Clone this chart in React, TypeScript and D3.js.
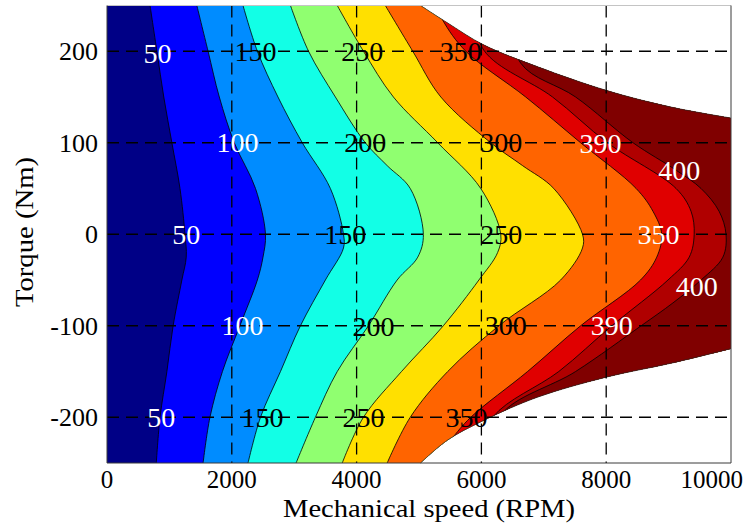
import React, { useRef, useEffect } from 'react';
import * as d3 from 'd3';

type Pt = [number, number]; // [speed (RPM), torque (Nm)]

// contour levels and the colour of each band (below first level ... above last)
const LEVELS = [50, 100, 150, 200, 250, 300, 350, 390, 400];
const BAND_COLORS = [
  '#000086', '#0000ff', '#008cff', '#12ffe6', '#90ff70',
  '#ffe000', '#ff6400', '#e00000', '#b00000', '#800000',
];

// contour lines, top (250 Nm) to bottom (-250 Nm)
const C50: Pt[] = [[690, 250], [800, 200], [910, 150], [1040, 100], [1170, 50], [1250, 0], [1270, -25], [1200, -50], [1060, -100], [960, -150], [850, -200], [790, -250]];
const C100: Pt[] = [[1440, 250], [1620, 200], [1800, 150], [2040, 100], [2380, 50], [2540, 0], [2500, -25], [2410, -50], [2130, -100], [1850, -150], [1650, -200], [1540, -250]];
const C150: Pt[] = [[2180, 250], [2410, 200], [2740, 150], [3130, 100], [3580, 50], [3790, 0], [3790, -15], [3500, -50], [3100, -100], [2780, -150], [2460, -200], [2260, -250]];
const C200: Pt[] = [[2940, 250], [3230, 200], [3660, 150], [4140, 100], [4490, 75], [4860, 50], [5070, 0], [4980, -25], [4650, -50], [4190, -100], [3690, -150], [3340, -200], [3030, -250]];
const C250: Pt[] = [[3690, 250], [4110, 200], [4590, 150], [5300, 100], [5990, 50], [6310, 0], [6260, -20], [5960, -50], [5390, -100], [4720, -150], [4110, -200], [3770, -250]];
const C300: Pt[] = [[4460, 250], [4900, 200], [5350, 150], [6150, 100], [6660, 75], [7160, 50], [7620, 0], [7620, -15], [7270, -50], [6280, -100], [5460, -150], [4860, -200], [4490, -250]];
const C350: Pt[] = [[5220, 260], [5380, 234], [5750, 200], [6710, 150], [7590, 100], [8480, 50], [8750, 25], [8890, 0], [8810, -25], [8550, -50], [7590, -100], [6740, -150], [5830, -200], [5510, -225], [5150, -260]];
const C390: Pt[] = [[5830, 260], [6040, 201], [7140, 150], [8020, 100], [9120, 50], [9360, 25], [9410, 0], [9330, -25], [8990, -50], [8090, -100], [7240, -150], [6180, -200], [5830, -260]];
const C400: Pt[] = [[6390, 260], [6630, 187], [7510, 150], [8430, 100], [9120, 70], [9520, 50], [9810, 25], [9920, 0], [9870, -25], [9520, -50], [9070, -75], [8560, -100], [7510, -150], [6310, -198], [6150, -260]];
const CONTOURS = [C50, C100, C150, C200, C250, C300, C350, C390, C400];

// torque limit of the operating region
const ENVELOPE_TOP: Pt[] = [[5024, 250], [5457, 231], [6035, 207], [6902, 183], [8010, 157], [9037, 139], [10000, 127]];
const ENVELOPE_BOTTOM: Pt[] = [[5024, -250], [5457, -225], [6019, -204], [6902, -178], [8010, -156], [9037, -141], [10000, -125]];

// inline contour labels: speed, torque, level, white text?
const LABELS: [number, number, number, boolean][] = [
  [810, 198, 50, true], [1270, 0, 50, true], [870, -200, 50, true],
  [2090, 100, 100, true], [2170, -100, 100, true],
  [2380, 200, 150, false], [3820, 0, 150, false], [2490, -200, 150, false],
  [4140, 100, 200, false], [4270, -101, 200, false],
  [4090, 200, 250, false], [6320, 0, 250, false], [4110, -200, 250, false],
  [6320, 100, 300, false], [6390, -100, 300, false],
  [5670, 200, 350, false], [8840, 0, 350, true], [5760, -200, 350, false],
  [7910, 99, 390, true], [8090, -100, 390, true],
  [9170, 70, 400, true], [9450, -57, 400, true],
];

const X_TICKS = [0, 2000, 4000, 6000, 8000, 10000];
const Y_TICKS = [-200, -100, 0, 100, 200];
const X_GRID = [2000, 4000, 6000, 8000];

const FONT = '"Liberation Serif", "Times New Roman", serif';

export default function App() {
  const ref = useRef<SVGSVGElement | null>(null);

  useEffect(() => {
    if (!ref.current) return;
    const svg = d3.select(ref.current);
    svg.selectAll('*').remove();

    const x = d3.scaleLinear().domain([0, 10000]).range([107, 731]);
    const y = d3.scaleLinear().domain([-250, 250]).range([463, 5.5]);

    const line = d3.line<Pt>()
      .x(d => x(d[0]))
      .y(d => y(d[1]))
      .curve(d3.curveCatmullRom.alpha(0.5));

    // ── Operating region (clip) ──────────────────────────────────────────────
    const topD = line(ENVELOPE_TOP) as string;
    const botD = line([...ENVELOPE_BOTTOM].reverse()) as string;
    const regionD = `M${x(0)},${y(250)}` + topD.replace(/^M/, 'L') +
      botD.replace(/^M/, 'L') + `L${x(0)},${y(-250)}Z`;

    svg.append('defs').append('clipPath').attr('id', 'region')
      .append('path').attr('d', regionD);

    const g = svg.append('g').attr('clip-path', 'url(#region)');

    g.append('rect')
      .attr('x', x(0)).attr('y', y(250))
      .attr('width', x(10000) - x(0)).attr('height', y(-250) - y(250))
      .attr('fill', BAND_COLORS[0]);

    // ── Filled bands ─────────────────────────────────────────────────────────
    const area = d3.area<Pt>()
      .y(d => y(d[1]))
      .x0(d => x(d[0]))
      .x1(x(10000) + 30)
      .curve(d3.curveCatmullRom.alpha(0.5));

    CONTOURS.forEach((pts, i) => {
      g.append('path')
        .attr('d', area(pts) as string)
        .attr('fill', BAND_COLORS[i + 1]);
    });

    CONTOURS.forEach(pts => {
      g.append('path')
        .attr('d', line(pts) as string)
        .attr('fill', 'none')
        .attr('stroke', '#000')
        .attr('stroke-width', 0.8);
    });

    // envelope edge
    [ENVELOPE_TOP, ENVELOPE_BOTTOM].forEach(env => {
      svg.append('path')
        .attr('d', line(env) as string)
        .attr('fill', 'none')
        .attr('stroke', '#222')
        .attr('stroke-width', 0.7);
    });

    // ── Grid ─────────────────────────────────────────────────────────────────
    X_GRID.forEach(v => {
      svg.append('line')
        .attr('x1', x(v)).attr('x2', x(v))
        .attr('y1', y(250)).attr('y2', y(-250))
        .attr('stroke', '#000').attr('stroke-width', 1.3)
        .attr('stroke-dasharray', '12,7');
    });
    Y_TICKS.forEach(v => {
      svg.append('line')
        .attr('x1', x(0)).attr('x2', x(10000))
        .attr('y1', y(v)).attr('y2', y(v))
        .attr('stroke', '#000').attr('stroke-width', 1.3)
        .attr('stroke-dasharray', '12,7');
    });

    // ── Frame ────────────────────────────────────────────────────────────────
    svg.append('line')
      .attr('x1', x(0)).attr('x2', x(10000)).attr('y1', y(250)).attr('y2', y(250))
      .attr('stroke', '#c4c4c4').attr('stroke-width', 1);
    svg.append('path')
      .attr('d', `M${x(0)},${y(250)}V${y(-250)}H${x(10000)}V${y(250)}`)
      .attr('fill', 'none').attr('stroke', '#3a3a3a').attr('stroke-width', 1);

    // ── Contour labels ───────────────────────────────────────────────────────
    LABELS.forEach(([s, t, lvl, white]) => {
      svg.append('text')
        .attr('x', x(s))
        .attr('y', y(t) + 0.34 * 28)
        .attr('text-anchor', 'middle')
        .attr('font-family', FONT)
        .attr('font-size', 28)
        .attr('fill', white ? '#fff' : '#000')
        .text(String(lvl));
    });

    // ── Tick labels ──────────────────────────────────────────────────────────
    X_TICKS.forEach(v => {
      const last = v === 10000;
      svg.append('text')
        .attr('x', last ? x(v) + 12 : x(v))
        .attr('y', 488)
        .attr('text-anchor', last ? 'end' : 'middle')
        .attr('font-family', FONT)
        .attr('font-size', 25)
        .attr('fill', '#000')
        .text(String(v));
    });
    Y_TICKS.forEach(v => {
      svg.append('text')
        .attr('x', 98)
        .attr('y', y(v) + 0.34 * 26)
        .attr('text-anchor', 'end')
        .attr('font-family', FONT)
        .attr('font-size', 26)
        .attr('fill', '#000')
        .text(String(v));
    });

    // ── Axis titles ──────────────────────────────────────────────────────────
    svg.append('text')
      .attr('x', 283).attr('y', 517)
      .attr('font-family', FONT).attr('font-size', 25)
      .attr('textLength', 292).attr('lengthAdjust', 'spacingAndGlyphs')
      .attr('fill', '#000')
      .text('Mechanical speed (RPM)');

    svg.append('text')
      .attr('transform', 'translate(33,307) rotate(-90)')
      .attr('font-family', FONT).attr('font-size', 26)
      .attr('textLength', 150).attr('lengthAdjust', 'spacingAndGlyphs')
      .attr('fill', '#000')
      .text('Torque (Nm)');
  }, []);

  return (
    <svg
      ref={ref}
      width={749}
      height={527}
      style={{ position: 'absolute', left: 0, top: 0, background: '#fff' }}
    />
  );
}
